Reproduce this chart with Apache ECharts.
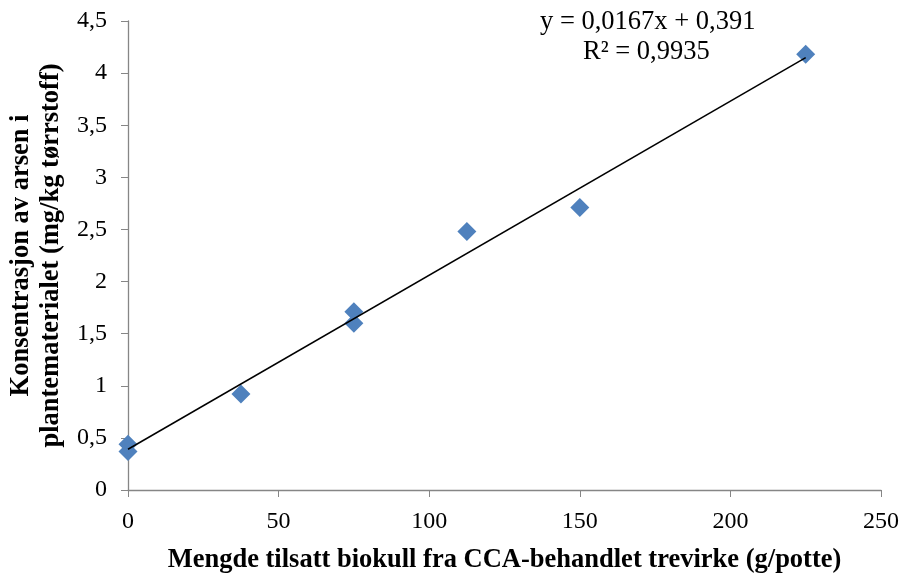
<!DOCTYPE html>
<html><head><meta charset="utf-8">
<script src="https://cdn.jsdelivr.net/npm/echarts@6/dist/echarts.min.js"></script>
<style>html,body{margin:0;padding:0;background:#fff}#c{width:905px;height:574px}</style>
</head><body><div id="c"></div>
<script>
const xValues = [0, 0, 37.5, 75, 75, 112.5, 150, 225];
const yValues = [0.44, 0.37, 0.92, 1.71, 1.60, 2.48, 2.71, 4.18];
const trendX = [0, 225];
const trendY = [0.391, 4.1485];
const eqLine1 = 'y = 0,0167x + 0,391';
const eqLine2 = 'R² = 0,9935';
const xTitle = 'Mengde tilsatt biokull fra CCA-behandlet trevirke (g/potte)';
const yTitle = 'Konsentrasjon av arsen i\nplantematerialet (mg/kg tørrstoff)';

const chart = echarts.init(document.getElementById('c'));
const font = '"Liberation Serif", "Times New Roman", serif';
const fmt = v => String(v).replace('.', ',');
chart.setOption({
  animation: false,
  textStyle: {fontFamily: font},
  grid: {left: 128, right: 24, top: 21, bottom: 84, containLabel: false, outerBoundsMode: 'none'},
  xAxis: {
    type: 'value', min: 0, max: 250, interval: 50,
    axisLine: {lineStyle: {color: '#868686', width: 1.3}},
    axisTick: {show: true, inside: false, length: 7, lineStyle: {color: '#868686'}},
    splitLine: {show: false},
    axisLabel: {color: '#000', fontSize: 24, fontFamily: font, margin: 20, formatter: fmt},
    name: xTitle, nameLocation: 'middle', nameGap: 57,
    nameTextStyle: {color: '#000', fontSize: 26.5, fontWeight: 'bold', fontFamily: font}
  },
  yAxis: {
    type: 'value', min: 0, max: 4.5, interval: 0.5,
    axisLine: {show: true, lineStyle: {color: '#868686', width: 1.3}},
    axisTick: {show: true, inside: false, length: 7, lineStyle: {color: '#868686'}},
    splitLine: {show: false},
    axisLabel: {color: '#000', fontSize: 24, fontFamily: font, margin: 21, formatter: fmt},
    name: yTitle, nameLocation: 'middle', nameGap: 61, nameRotate: 90,
    nameTextStyle: {color: '#000', fontSize: 26.5, fontWeight: 'bold', fontFamily: font, lineHeight: 30, align: 'center'}
  },
  series: [
    {
      type: 'line', data: trendX.map((x, i) => [x, trendY[i]]),
      showSymbol: false, symbol: 'none', lineStyle: {color: '#000', width: 1.5}, z: 3
    },
    {
      type: 'scatter', data: xValues.map((x, i) => [x, yValues[i]]),
      symbol: 'diamond', symbolSize: [19, 19], itemStyle: {color: '#4F81BD', opacity: 1}, z: 2
    }
  ],
  graphic: [
    {type: 'text', left: 540, top: 9, style: {text: eqLine1, font: '26.5px ' + font, fill: '#000'}},
    {type: 'text', left: 583, top: 39, style: {text: eqLine2, font: '26.5px ' + font, fill: '#000'}}
  ]
});
</script></body></html>
